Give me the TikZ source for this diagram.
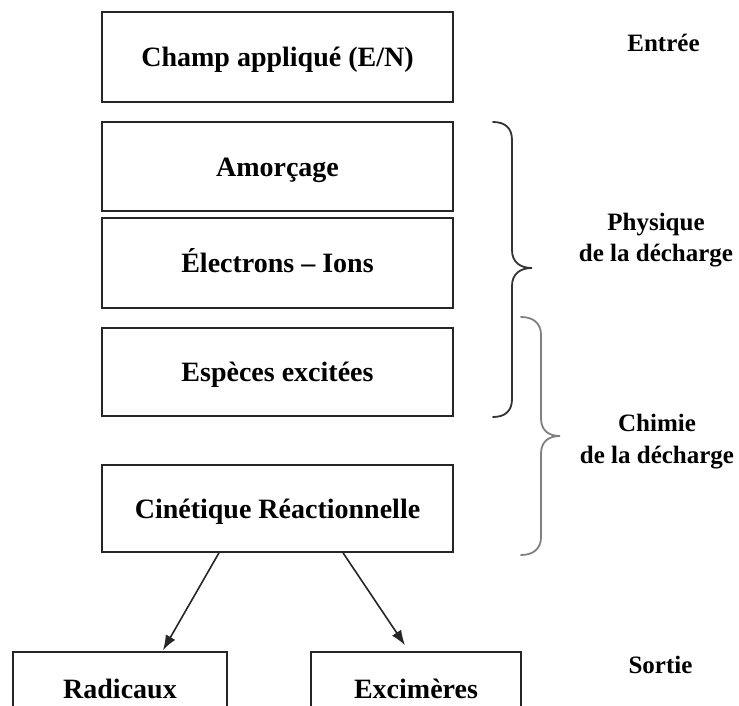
\documentclass[tikz,border=0pt]{standalone}
\usepackage{fontspec}
\setmainfont{Liberation Serif}
\usetikzlibrary{arrows.meta}
\begin{document}
\begin{tikzpicture}[x=1pt,y=-1pt,
  box/.style={draw=black!85, line width=1.6pt, inner sep=0pt,
    font=\fontsize{28}{32}\selectfont\bfseries,
    text height=19pt, text depth=0pt, minimum width=351pt},
  lab/.style={font=\fontsize{25}{31.5}\selectfont\bfseries, inner sep=0pt, align=center},
  arr/.style={-{Latex[length=15pt,width=11pt]}, line width=1.6pt, draw=black!85},
  bracea/.style={line width=1.8pt, line cap=round, draw=black!80},
  braceb/.style={line width=1.8pt, line cap=round, draw=black!50}]
\useasboundingbox (0,0) rectangle (739,706);
\clip (0,0) rectangle (739,706);

% boxes
\node[box, minimum height=90pt] (champ) at (277.5,57) {Champ appliqué (E/N)};
\node[box, minimum height=89pt] (amor) at (277.5,166.5) {Amorçage};
\node[box, minimum height=90pt] (elec) at (277.5,263) {Électrons – Ions};
\node[box, minimum height=88pt] (esp) at (277.5,372) {Espèces excitées};
\node[box, minimum height=87pt] (cin) at (277.5,508.5) {Cinétique Réactionnelle};
\node[box, minimum width=214pt, minimum height=74pt] (rad) at (120,689) {Radicaux};
\node[box, minimum width=210pt, minimum height=74pt] (exc) at (416,689) {Excimères};

% arrows
\draw[arr] ([xshift=-58.5pt]cin.south) -- ([xshift=43pt,yshift=1pt]rad.north);
\draw[arr] ([xshift=65.5pt]cin.south) -- ([xshift=-11pt,yshift=6pt]exc.north);

% braces
\draw[bracea] (493,122) .. controls (505,122) and (512,128) .. (512,140)
  -- (512,250) .. controls (512,262) and (520,268) .. (532,268)
  .. controls (520,268) and (512,274) .. (512,286)
  -- (512,399) .. controls (512,411) and (505,417) .. (493,417);
\draw[braceb] (521,317) .. controls (533,317) and (541,323) .. (541,335)
  -- (541,418) .. controls (541,430) and (548,436) .. (560,436)
  .. controls (548,436) and (541,442) .. (541,454)
  -- (541,537) .. controls (541,549) and (533,555) .. (521,555);

% side labels
\node[lab, anchor=base] (entree) at (663.5,52) {Entrée};
\node[lab] (phys) at (656,240) {Physique\\de la décharge};
\node[lab] (chim) at (657,441.5) {Chimie\\de la décharge};
\node[lab, anchor=base] (sortie) at (660.5,673) {Sortie};
\end{tikzpicture}
\end{document}
